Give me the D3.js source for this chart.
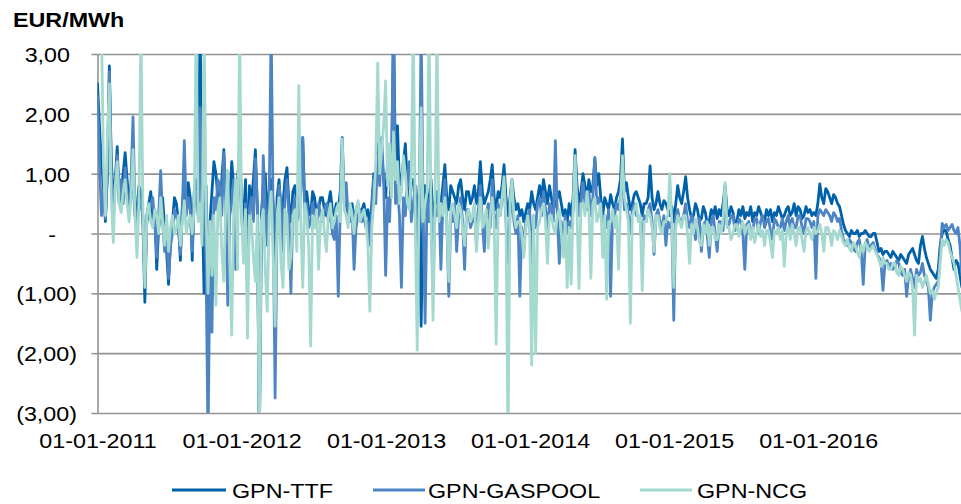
<!DOCTYPE html>
<html>
<head>
<meta charset="utf-8">
<script src="https://cdn.jsdelivr.net/npm/d3@7"></script>
<style>
  html, body { margin: 0; padding: 0; background: #fff; }
  svg { display: block; font-family: "Liberation Sans", Arial, sans-serif; }
</style>
</head>
<body>
<svg id="chart" width="961" height="504"></svg>
<script>
// ---- data (EUR/MWh spreads, sampled every 5 days from 01-01-2011) ----
const startDate = "2011-01-01";
const stepDays = 5;
const seriesNames = ["GPN-TTF", "GPN-GASPOOL", "GPN-NCG"];
const yTickValues = [3, 2, 1, 0, -1, -2, -3];
const xTickLabels = ["01-01-2011", "01-01-2012", "01-01-2013", "01-01-2014", "01-01-2015", "01-01-2016"];

const ttf = [
  2.5, 1.8, 1.2, 0.8, 0.2, 1.0, 2.8, 1.2, 0.6, 0.9, 1.45, 0.5, 0.7, 1.0, 1.35, 0.9, 0.5, 0.7, 0.9, 0.3,
  0.4, 0.8, 0.7, 0.2, -1.15, 0.3, 0.5, 0.7, 0.2, 0.4, -0.6, 0.1, 0.3, 0.6, 0.1, -0.3, -0.85, -0.1, 0.2, 0.6,
  0.5, 0.2, -0.45, 0.5, 0.8, 0.4, 0.85, 0.6, -0.45, 0.7, 0.9, 0.5, 3.5, 0.6, -1.0, 0.8, -2.35, 0.2, 0.7, 1.2,
  1.0, 0.6, 0.3, 0.9, 1.4, 0.7, -0.9, 0.5, 1.2, 0.8, 0.4, 0.9, 1.4, 0.6, 0.2, 0.9, -0.5, 0.8, 0.5, 0.9,
  1.4, 0.4, -3.5, 0.3, 0.8, 1.0, 0.3, 0.7, 0.9, 0.5, -0.5, 0.6, 0.9, 0.3, 0.5, 0.9, 1.1, 0.5, 0.2, 0.7,
  0.8, 0.5, 0.4, 0.9, 1.6, 0.5, 0.7, 0.4, 0.3, 0.7, 0.6, 0.3, 0.4, 0.6, 0.6, 0.4, 0.3, 0.5, 0.7, 0.4,
  0.3, 0.5, 0.4, 0.7, 1.6, 0.6, 0.5, 0.3, 0.4, 0.5, 0.2, 0.4, 0.5, 0.3, 0.4, 0.5, 0.3, 0.4, 0.1, 0.5,
  1.0, 0.8, 1.5, 1.1, 1.3, 0.9, 0.6, 1.2, 1.3, 1.0, 3.5, 1.1, 1.8, 0.8, 0.9, 1.2, 1.5, 0.8, 0.6, 0.9,
  0.9, 0.5, 0.3, 0.8, -1.55, 0.4, 0.8, 0.3, 0.6, 0.9, 0.3, 0.5, 0.7, 0.3, 0.5, 0.8, 1.15, 0.6, 0.4, 0.8,
  0.7, 0.6, 0.5, 0.8, 0.9, 0.6, 0.4, 0.7, 0.7, 0.5, 0.6, 0.8, 0.5, 0.7, 1.2, 0.7, 0.5, 0.6, 0.7, 0.9,
  1.15, 0.6, 0.4, 0.7, 0.6, 0.8, 1.15, 0.6, 0.3, 0.6, 0.9, 0.6, 0.4, 0.5, 0.3, 0.4, 0.2, 0.35, 0.5, 0.4,
  0.7, 0.5, 0.4, 0.6, 0.8, 0.6, 0.9, 0.7, 0.5, 0.8, 0.6, 0.4, 0.5, 0.6, 0.7, 0.5, 0.3, 0.4, 0.2, 0.5,
  0.3, 0.6, 1.4, 0.8, 0.5, 0.7, 1.0, 0.8, 0.6, 0.9, 0.7, 0.8, 1.25, 0.8, 1.0, 0.6, 0.3, 0.6, 0.5, 0.4,
  0.65, 0.5, 0.4, 0.6, 0.7, 0.9, 1.58, 0.7, 0.85, 0.6, 0.4, 0.5, 0.65, 0.7, 0.6, 0.5, 0.3, 0.5, 0.5, 0.6,
  1.13, 0.6, 0.4, 0.5, 0.7, 0.5, 0.4, 0.55, 0.5, 0.4, 0.3, 0.45, 0.2, 0.5, 0.8, 0.6, 0.5, 0.7, 0.95, 0.6,
  0.4, 0.25, 0.3, 0.5, 0.4, 0.2, 0.25, 0.45, 0.35, 0.15, 0.2, 0.4, 0.3, 0.45, 0.25, 0.4, 0.3, 0.5, 0.8, 0.4,
  0.3, 0.45, 0.35, 0.15, 0.2, 0.4, 0.3, 0.45, 0.25, 0.35, 0.3, 0.45, 0.2, 0.35, 0.3, 0.45, 0.35, 0.25, 0.2, 0.4,
  0.3, 0.4, 0.2, 0.35, 0.3, 0.45, 0.35, 0.25, 0.3, 0.4, 0.45, 0.3, 0.35, 0.5, 0.3, 0.45, 0.4, 0.25, 0.3, 0.45,
  0.35, 0.4, 0.3, 0.35, 0.3, 0.5, 0.83, 0.6, 0.5, 0.75, 0.7, 0.6, 0.5, 0.65, 0.6, 0.5, 0.45, 0.3, 0.15, 0.05,
  0.0, -0.05, 0.05, 0.0, 0.0, 0.05, -0.05, 0.0, 0.0, 0.05, 0.0, -0.05, -0.05, 0.0, 0.0, -0.15, -0.3, -0.25, -0.35, -0.3,
  -0.3, -0.35, -0.4, -0.3, -0.35, -0.4, -0.45, -0.35, -0.4, -0.45, -0.5, -0.35, -0.3, -0.25, -0.35, -0.45, -0.5, -0.2, -0.05, -0.25,
  -0.4, -0.5, -0.6, -0.65, -0.7, -0.75, -0.6, -0.2, 0.0, 0.05, 0.05, -0.1, -0.2, -0.4, -0.6, -0.45, -0.5, -0.7, -0.9
];

const gaspool = [
  2.3, 1.2, 0.3, 0.7, 0.25, 1.0, 2.7, 1.0, 0.4, 0.8, 1.3, 0.6, 0.9, 0.5, 1.1, 0.7, 0.3, 0.9, 1.95, 0.4,
  0.1, 0.6, 0.5, 0.3, -0.8, 0.2, 0.3, 0.5, 0.6, 0.2, -0.4, 0.3, 1.05, 0.2, -0.3, 0.1, -0.75, -0.2, 0.0, 0.4,
  0.3, 0.1, -0.35, 0.4, 1.55, 0.3, 0.6, 0.4, -0.3, 0.5, 0.7, 0.3, 2.1, 0.4, 0.5, -0.5, -3.5, -0.4, -1.65, 0.6,
  0.4, 0.9, 0.8, 0.3, 1.35, 0.5, -1.2, 0.3, 0.5, 0.9, -0.6, 0.6, 1.0, 0.3, -0.2, 0.5, -0.9, 0.4, 0.6, 0.2,
  1.25, 0.5, -3.5, -0.3, 1.3, 0.4, -0.2, 0.6, 3.5, 0.3, -2.75, 0.2, 0.8, 0.5, -0.3, 0.6, 0.9, 0.3, -1.0, 0.4,
  0.6, 0.2, 0.3, 0.7, 1.6, 0.3, 0.5, 0.1, 0.2, 0.5, 0.3, 0.1, 0.5, 0.3, 0.2, 0.4, 0.5, 0.2, 0.4, 0.0,
  -0.1, 0.3, -1.05, 0.4, 1.3, 0.5, 0.85, 0.3, 0.2, 0.4, -0.6, 0.1, 0.3, 0.4, 0.2, 0.3, 0.1, 0.2, -0.2, 0.4,
  0.9, 0.5, 1.3, 0.8, 1.6, 0.9, -0.7, 0.6, 0.2, 1.3, 3.5, 0.5, 0.8, 0.3, -0.9, 0.6, 0.3, 0.9, 1.2, 0.2,
  0.5, 0.8, -0.2, 0.3, 3.5, 0.4, -1.5, 0.6, 0.2, 0.5, -1.0, 0.4, 0.3, 0.6, -0.6, 0.5, 0.9, 0.2, -1.05, 0.3,
  0.2, 0.5, -0.3, 0.3, 0.6, 0.2, -0.6, 0.4, 0.4, 0.1, 0.2, 0.5, -0.2, 0.4, 0.8, 0.2, -0.3, 0.3, 0.5, 0.1,
  0.9, 0.3, 0.1, 0.5, 0.3, 0.6, 0.8, 0.2, -0.5, 0.3, 0.6, 0.2, 0.0, 0.3, -1.05, 0.1, -0.3, 0.2, 0.3, 0.4,
  -0.6, 0.3, 0.1, 0.5, 0.6, 0.3, 0.7, 0.4, 0.1, 0.5, 0.4, 0.2, 1.55, 0.3, -0.5, 0.2, -0.2, 0.3, 0.0, 0.2,
  0.1, 0.4, 1.3, 0.6, 0.3, 0.5, 0.85, 0.5, 0.4, 0.7, 0.3, 0.6, 1.27, 0.5, 0.6, 0.4, 0.2, 0.3, 0.1, 0.4,
  -1.05, 0.3, 0.3, 0.5, 0.4, 0.6, 1.0, 0.4, 0.5, 0.3, 0.0, 0.4, 0.5, 0.3, 0.3, 0.2, -0.2, 0.3, 0.2, 0.4,
  0.5, 0.2, -0.35, 0.3, 0.4, 0.2, 0.1, 0.3, -0.2, 0.2, 0.1, 0.2, -1.45, 0.3, 0.4, 0.2, 0.2, 0.3, 0.5, 0.2,
  0.1, 0.3, 0.2, -0.1, 0.1, 0.25, -0.3, 0.15, 0.2, -0.05, -0.4, 0.2, 0.3, 0.0, -0.3, 0.2, 0.2, 0.05, 0.7, 0.15,
  0.15, 0.3, 0.3, 0.05, 0.1, 0.25, 0.2, 0.0, -0.6, 0.15, 0.2, 0.05, 0.05, 0.25, 0.25, 0.0, 0.2, 0.3, 0.1, 0.2,
  0.25, 0.05, -0.1, 0.25, 0.2, 0.1, 0.1, 0.25, 0.05, 0.2, 0.3, 0.1, 0.25, 0.1, 0.1, 0.3, 0.3, 0.1, 0.0, 0.25,
  0.25, 0.2, 0.1, 0.2, -0.75, 0.3, 0.4, 0.35, 0.3, 0.4, 0.35, 0.3, 0.2, 0.35, 0.3, 0.2, 0.25, 0.05, -0.1, -0.15,
  -0.2, -0.1, -0.15, -0.25, -0.3, -0.15, -0.1, -0.3, -0.85, -0.2, -0.1, -0.25, -0.2, -0.15, -0.25, -0.35, -0.4, -0.5, -0.95, -0.5,
  -0.45, -0.55, -0.5, -0.6, -0.55, -0.45, -0.5, -0.65, -0.7, -0.6, -1.05, -0.7, -0.6, -0.75, -0.9, -0.6, -0.7, -0.65, -0.5, -0.7,
  -0.8, -0.9, -1.45, -1.0, -0.9, -0.85, -0.8, -0.3, 0.17, 0.1, 0.15, 0.05, 0.1, 0.15, 0.05, 0.0, 0.1, -0.2, -0.7
];

const ncg = [
  3.5, 3.5, 3.5, 1.2, 0.3, 1.6, 2.5, 0.6, -0.15, 0.8, 1.2, 0.5, 0.35, 0.7, 0.9, 0.5, 0.2, 0.6, 1.4, 0.3,
  -0.4, 0.5, 3.5, 0.4, -0.9, 0.3, 0.5, 0.2, 0.1, 0.4, 0.3, 0.0, 0.6, 0.2, -0.2, 0.3, -0.3, 0.1, 0.3, 0.0,
  0.1, 0.3, -0.2, 0.2, 0.55, 0.0, 0.2, 0.3, 0.0, 0.4, 3.5, 0.2, 0.5, -0.2, 3.5, 0.4, -1.0, 0.2, -0.7, 0.3,
  -1.2, 0.4, 0.6, -0.3, -0.8, 0.5, 1.05, -0.5, -1.7, 0.4, 0.9, -0.6, 3.5, 0.3, -0.5, 0.4, -1.75, 0.3, 0.2, -0.4,
  -0.8, 0.3, -3.5, 0.2, 0.4, -0.6, -1.3, 0.3, 0.7, -0.4, -1.55, 0.3, 0.6, -0.5, -0.9, 0.4, 0.3, -0.6, -0.4, 0.3,
  0.4, -0.3, 2.47, 0.2, -0.9, 0.5, 0.3, -0.2, -1.88, 0.3, 0.1, 0.4, -0.6, 0.2, 0.4, 0.0, -0.3, 0.3, 0.5, 0.1,
  0.2, 0.4, 0.5, 0.2, 1.58, 0.4, 0.3, 0.1, 0.5, 0.3, 0.0, 0.4, 0.55, 0.2, 0.3, 0.4, 0.2, -0.2, -1.3, 0.1,
  0.5, 1.2, 2.85, 1.0, 1.4, 1.8, 2.55, 0.8, 1.5, 0.6, 1.7, 0.9, 1.2, 0.5, 0.7, 1.3, 1.0, 0.5, 0.4, 1.0,
  3.5, 0.2, -1.95, 0.6, 2.1, 0.2, 0.5, 0.7, 3.5, 0.3, -1.45, 0.4, 3.5, 0.2, 0.5, 0.3, 0.6, 0.2, -0.8, 0.4,
  0.5, 0.3, 0.1, 0.5, 0.4, 0.1, -0.2, 0.3, 0.4, 0.2, 0.3, 0.5, -0.3, 0.2, 0.6, 0.1, 0.2, 0.4, -0.25, 0.3,
  0.6, 0.2, -1.85, 0.4, 0.3, 0.6, 0.95, 0.2, -3.5, 0.5, 0.9, 0.3, 0.1, 0.2, 0.2, 0.0, -0.4, 0.1, 0.3, 0.0,
  -2.2, 0.3, -2.0, 0.1, 0.2, 0.4, 0.5, 0.2, -0.5, 0.3, 0.3, 0.1, 0.0, 0.3, 0.4, 0.0, -0.4, 0.2, -0.9, 0.1,
  -0.85, 0.4, 1.3, 0.3, -0.92, 0.5, 0.5, 0.3, 0.7, 0.4, -0.75, 0.5, 0.6, 0.2, 0.3, 0.5, -0.4, 0.3, -1.1, 0.2,
  0.2, 0.4, 0.1, 0.3, -0.6, 0.5, 1.3, 0.6, 0.4, 0.2, -1.5, 0.3, 0.4, 0.5, 0.2, 0.3, -0.95, 0.2, 0.2, 0.4,
  0.3, 0.1, -0.3, 0.3, 0.3, 0.1, 0.0, 0.2, 0.2, 0.3, 1.0, 0.2, -0.9, 0.1, 0.3, 0.2, 0.1, 0.3, 0.3, 0.0,
  -0.5, 0.15, 0.0, 0.25, 0.1, -0.15, -0.2, 0.15, 0.0, 0.2, -0.2, 0.1, 0.1, -0.1, -0.1, 0.15, 0.0, 0.25, 0.85, 0.1,
  0.1, -0.1, 0.0, 0.15, 0.15, -0.05, 0.1, 0.2, 0.0, 0.1, 0.15, -0.1, 0.1, -0.15, 0.0, 0.15, -0.05, 0.05, -0.2, 0.05,
  0.05, -0.15, -0.4, 0.05, 0.0, 0.1, -0.1, 0.05, -0.55, 0.0, 0.1, -0.1, 0.15, 0.0, -0.2, 0.1, 0.1, -0.1, -0.3, 0.05,
  0.1, 0.0, -0.1, 0.1, 0.0, 0.05, 0.15, 0.0, -0.3, 0.1, 0.1, 0.0, -0.2, 0.05, 0.0, -0.1, 0.05, -0.05, -0.15, -0.2,
  -0.1, -0.25, -0.3, -0.15, -0.2, -0.3, -0.4, -0.2, -0.3, -0.15, -0.2, -0.3, -0.25, -0.2, -0.3, -0.35, -0.45, -0.55, -0.4, -0.5,
  -0.5, -0.6, -0.6, -0.5, -0.5, -0.65, -0.7, -0.55, -0.6, -0.7, -0.8, -0.65, -0.7, -0.9, -1.7, -0.7, -0.8, -0.75, -0.9, -0.8,
  -0.7, -0.85, -1.0, -0.95, -1.1, -1.0, -0.9, -0.5, -0.1, -0.2, -0.1, -0.15, -0.3, -0.4, -0.5, -0.7, -0.9, -1.1, -1.3
];

// ---- layout / style ----
const colors = ["#0061AB", "#4C84C4", "#A3D9CE"];
const textScale = 1.11;
const plot = { left: 97.5, right: 962.7, top: 54, bottom: 413 };

const svg = d3.select("#chart");
const parse = d3.timeParse("%Y-%m-%d");
const t0 = parse(startDate);

const x = d3.scaleTime()
  .domain([parse("2011-01-01"), parse("2017-01-01")])
  .range([plot.left, plot.right]);
const y = d3.scaleLinear().domain([-3, 3]).range([plot.bottom, plot.top]);

const fmt = v => v === 0 ? "-" :
  v > 0 ? v.toFixed(2).replace(".", ",") : "(" + Math.abs(v).toFixed(2).replace(".", ",") + ")";

// grid lines
svg.append("g")
  .attr("transform", `translate(${plot.left},0)`)
  .call(d3.axisLeft(y).tickValues(yTickValues).tickSize(-(961 - plot.left)).tickFormat(""))
  .call(g => g.select(".domain").remove())
  .call(g => g.selectAll("line").attr("stroke", "#939393").attr("stroke-width", 1.6));

// y axis with ticks and labels
const yAxisG = svg.append("g")
  .attr("transform", `translate(${plot.left},0)`)
  .call(d3.axisLeft(y).tickValues(yTickValues).tickSize(6).tickSizeOuter(0).tickFormat(fmt));
yAxisG.select(".domain").attr("stroke", "#939393").attr("stroke-width", 1.6);
yAxisG.selectAll(".tick line").attr("stroke", "#939393").attr("stroke-width", 1.6);
yAxisG.selectAll(".tick text")
  .attr("x", null).attr("dy", "0.36em")
  .attr("text-anchor", "end")
  .attr("transform", d => {
    const end = d === 0 ? 56 : (d > 0 ? 70 : 77);
    return `translate(${end - plot.left},0) scale(${textScale},1)`;
  })
  .style("font-size", "21px")
  .style("font-family", '"Liberation Sans", Arial, sans-serif')
  .attr("fill", "#000");

// x axis labels
const xTickDates = xTickLabels.map(s => d3.timeParse("%d-%m-%Y")(s));
const xAxisG = svg.append("g")
  .attr("transform", `translate(0,${plot.bottom})`)
  .call(d3.axisBottom(x).tickValues(xTickDates).tickSize(0).tickFormat(d3.timeFormat("%d-%m-%Y")));
xAxisG.select(".domain").remove();
xAxisG.selectAll(".tick text")
  .attr("y", null).attr("dy", null)
  .attr("transform", `translate(0,35) scale(${textScale},1)`)
  .attr("text-anchor", "middle")
  .style("font-size", "21px")
  .style("font-family", '"Liberation Sans", Arial, sans-serif')
  .attr("fill", "#000");

// title
svg.append("text")
  .attr("transform", `translate(13,27) scale(${textScale},1)`)
  .style("font-size", "21px").style("font-weight", "bold")
  .text("EUR/MWh");

// clip
svg.append("clipPath").attr("id", "plotclip")
  .append("rect")
  .attr("x", plot.left).attr("y", plot.top)
  .attr("width", 961 - plot.left).attr("height", plot.bottom - plot.top);

const line = d3.line()
  .x((d, i) => x(d3.timeDay.offset(t0, i * stepDays)))
  .y(d => y(d));
const allSeries = [ttf, gaspool, ncg];
const lg = svg.append("g").attr("clip-path", "url(#plotclip)");
allSeries.forEach((s, k) => {
  lg.append("path")
    .attr("d", line(s))
    .attr("fill", "none")
    .attr("stroke", colors[k])
    .attr("stroke-width", 2.8)
    .attr("stroke-linejoin", "round")
    .attr("stroke-linecap", "round");
});

// legend
const legendPos = [{ x1: 172, x2: 226, tx: 232 }, { x1: 373, x2: 425, tx: 428 }, { x1: 640, x2: 692, tx: 697 }];
seriesNames.forEach((name, k) => {
  const p = legendPos[k];
  svg.append("line").attr("x1", p.x1).attr("x2", p.x2).attr("y1", 490).attr("y2", 490)
    .attr("stroke", colors[k]).attr("stroke-width", 3);
  svg.append("text")
    .attr("transform", `translate(${p.tx},498) scale(${textScale},1)`)
    .style("font-size", "21px")
    .text(name);
});
</script>
</body>
</html>
